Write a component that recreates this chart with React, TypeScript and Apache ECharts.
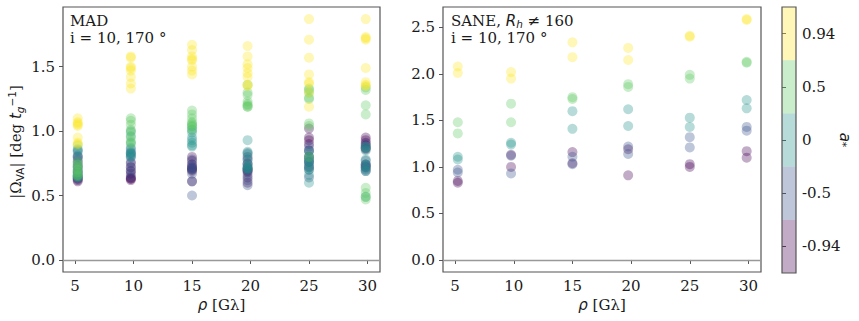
import React, { useEffect, useRef } from "react";
import * as echarts from "echarts";

// baseline lengths (G lambda) of the six columns
const rho = [5.23, 9.77, 15.0, 19.75, 25.0, 29.85];
const rhoTicks = [5, 10, 15, 20, 25, 30];
const madTicks = [0, 0.5, 1.0, 1.5];
const saneTicks = [0, 0.5, 1.0, 1.5, 2.0, 2.5];
const spinLabels = ["-0.94", "-0.5", "0", "0.5", "0.94"];
const spinColors = ["#440154", "#3b528b", "#21918c", "#5ec962", "#fde725"];

// MAD: |Omega_VA| per spin, one list per rho column
const madM094 = [
  [0.8, 0.76, 0.72, 0.68, 0.65, 0.63, 0.62, 0.61],
  [0.75, 0.72, 0.69, 0.67, 0.64, 0.63, 0.63, 0.62],
  [0.8, 0.77, 0.74, 0.72, 0.71, 0.7, 0.69, 0.61],
  [0.8, 0.75, 0.72, 0.7, 0.69, 0.68, 0.64, 0.6],
  [1.02, 0.95, 0.93, 0.9, 0.85, 0.8, 0.76, 0.72],
  [0.95, 0.93, 0.91, 0.89, 0.87, 0.86, 0.74, 0.72],
];
const madM05 = [
  [0.85, 0.81, 0.78, 0.73, 0.69, 0.66, 0.64, 0.63],
  [0.86, 0.83, 0.82, 0.8, 0.76, 0.72, 0.69, 0.65],
  [0.78, 0.74, 0.72, 0.71, 0.7, 0.67, 0.61, 0.5],
  [0.83, 0.78, 0.74, 0.71, 0.7, 0.66, 0.62, 0.58],
  [0.88, 0.85, 0.8, 0.78, 0.76, 0.73, 0.7, 0.64],
  [0.9, 0.87, 0.77, 0.74, 0.73, 0.72, 0.7, 0.69],
];
const mad0 = [
  [0.86, 0.84, 0.8, 0.74, 0.7, 0.67, 0.65, 0.64],
  [1.0, 0.96, 0.91, 0.87, 0.84, 0.83, 0.81, 0.8],
  [1.04, 1.01, 0.99, 0.95, 0.93, 0.91, 0.89, 0.88],
  [0.93, 0.84, 0.82, 0.78, 0.74, 0.72, 0.71, 0.7],
  [0.84, 0.8, 0.77, 0.75, 0.72, 0.7, 0.66, 0.6],
  [0.88, 0.87, 0.85, 0.78, 0.74, 0.71, 0.69, 0.49],
];
const mad05 = [
  [0.89, 0.76, 0.74, 0.72, 0.7, 0.68, 0.66, 0.65],
  [1.1, 1.08, 1.05, 1.01, 0.99, 0.95, 0.92, 0.9],
  [1.16, 1.13, 1.1, 1.07, 1.06, 1.05, 1.03, 1.01],
  [1.36, 1.3, 1.28, 1.23, 1.21, 1.2, 1.19, 1.19],
  [1.33, 1.32, 1.3, 1.26, 1.25, 1.06, 1.04, 0.8],
  [1.34, 1.32, 1.2, 1.13, 0.56, 0.52, 0.49, 0.47],
];
const mad094 = [
  [1.1, 1.07, 1.06, 1.05, 1.04, 0.95, 0.91, 0.9],
  [1.58, 1.57, 1.5, 1.49, 1.47, 1.42, 1.37, 1.33],
  [1.67, 1.63, 1.58, 1.56, 1.55, 1.5, 1.47, 1.44],
  [1.66, 1.58, 1.52, 1.49, 1.45, 1.42, 1.36, 1.35],
  [1.87, 1.71, 1.57, 1.44, 1.38, 1.37, 1.3, 1.19],
  [1.87, 1.73, 1.72, 1.71, 1.49, 1.38, 1.36, 1.35],
];

// SANE (R_h != 160)
const saneM094 = [[0.85, 0.83], [1.13, 1.0], [1.16, 1.04], [1.19, 0.91], [1.03, 1.0], [1.17, 1.1]];
const saneM05 = [[0.97, 0.94], [1.12, 0.93], [1.11, 1.03], [1.22, 1.14], [1.32, 1.21], [1.43, 1.39]];
const sane0 = [[1.11, 1.08], [1.26, 1.24], [1.6, 1.41], [1.62, 1.44], [1.53, 1.43], [1.72, 1.63]];
const sane05 = [[1.48, 1.36], [1.68, 1.48], [1.75, 1.73], [1.89, 1.86], [1.99, 1.95], [2.13, 2.12]];
const sane094 = [[2.08, 2.01], [2.02, 1.95], [2.34, 2.18], [2.28, 2.15], [2.41, 2.4], [2.59, 2.58]];

const madSets = [madM094, madM05, mad0, mad05, mad094];
const saneSets = [saneM094, saneM05, sane0, sane05, sane094];

const ALPHA = 0.33;
const FONT = "DejaVu Serif";
const FS = 15;
const FRAME = "#555";
const TXT = "#1a1a1a";

function toPoints(cols: number[][]) {
  const out: number[][] = [];
  cols.forEach((vals, i) => vals.forEach((v) => out.push([rho[i], v])));
  return out;
}

function hexA(hex: string, a: number) {
  const r = parseInt(hex.slice(1, 3), 16);
  const g = parseInt(hex.slice(3, 5), 16);
  const b = parseInt(hex.slice(5, 7), 16);
  return `rgba(${r},${g},${b},${a})`;
}

export default function App() {
  const ref = useRef<HTMLDivElement>(null);
  useEffect(() => {
    if (!ref.current) return;
    const chart = echarts.init(ref.current, undefined, { renderer: "svg" });

    const xAxisBase = (gridIndex: number) => ({
      type: "value",
      gridIndex,
      min: 3.97,
      max: 31.07,
      name: "{it|ρ} [Gλ]",
      nameLocation: "middle",
      nameGap: 20,
      nameTextStyle: {
        fontFamily: FONT,
        fontSize: FS,
        color: TXT,
        rich: {
          it: { fontFamily: "DejaVu Sans", fontStyle: "italic", fontSize: FS, color: TXT },
        },
      },
      axisLine: { show: false },
      splitLine: { show: false },
      axisTick: { show: true, length: 4, lineStyle: { color: FRAME }, customValues: rhoTicks },
      axisLabel: {
        fontFamily: FONT,
        fontSize: FS,
        color: TXT,
        margin: 6,
        customValues: rhoTicks,
        formatter: (v: number) => String(v),
      },
    });

    const yAxisBase = (gridIndex: number, min: number, max: number, ticks: number[]) => ({
      type: "value",
      gridIndex,
      min,
      max,
      axisLine: { show: false },
      splitLine: { show: false },
      axisTick: { show: true, length: 4, lineStyle: { color: FRAME }, customValues: ticks },
      axisLabel: {
        fontFamily: FONT,
        fontSize: FS,
        color: TXT,
        margin: 8,
        customValues: ticks,
        formatter: (v: number) => v.toFixed(1),
      },
    });

    const series: any[] = [];
    [madSets, saneSets].forEach((sets, p) => {
      sets.forEach((cols, s) => {
        series.push({
          type: "scatter",
          xAxisIndex: p,
          yAxisIndex: p,
          symbolSize: 10,
          data: toPoints(cols),
          itemStyle: { color: spinColors[s], opacity: ALPHA },
          z: 3,
          markLine:
            s === 0
              ? {
                  silent: true,
                  symbol: ["none", "none"],
                  label: { show: false },
                  lineStyle: { color: "#999", width: 1.3, type: "solid" },
                  data: [{ yAxis: 0 }],
                  z: 1,
                }
              : undefined,
        });
      });
    });

    series.push({
      type: "bar",
      xAxisIndex: 2,
      yAxisIndex: 2,
      barWidth: "100%",
      barCategoryGap: "0%",
      data: spinLabels.map((_, i) => ({
        value: 1,
        itemStyle: { color: hexA(spinColors[i], ALPHA) },
      })),
    });

    chart.setOption({
      animation: false,
      backgroundColor: "#fff",
      grid: [
        { left: 63, top: 7, width: 317, height: 265, show: true, borderColor: FRAME, borderWidth: 1.2, backgroundColor: "transparent" },
        { left: 443, top: 7, width: 318, height: 265, show: true, borderColor: FRAME, borderWidth: 1.2, backgroundColor: "transparent" },
        { left: 782, top: 7, width: 14, height: 266, show: true, borderColor: FRAME, borderWidth: 1.2, backgroundColor: "transparent", z: 5 },
      ],
      xAxis: [
        xAxisBase(0),
        xAxisBase(1),
        { type: "value", gridIndex: 2, min: 0, max: 1, show: false },
      ],
      yAxis: [
        yAxisBase(0, -0.0935, 1.9635, madTicks),
        yAxisBase(1, -0.1295, 2.7195, saneTicks),
        {
          type: "category",
          gridIndex: 2,
          position: "right",
          data: spinLabels,
          axisLine: { show: false },
          splitLine: { show: false },
          axisTick: { show: true, length: 4, alignWithLabel: true, lineStyle: { color: FRAME } },
          axisLabel: { fontFamily: FONT, fontSize: FS, color: TXT, margin: 6 },
        },
      ],
      graphic: [
        {
          type: "text",
          left: 70,
          top: 12,
          z: 10,
          style: {
            text: "MAD\ni = 10, 170 °",
            fontFamily: FONT,
            fontSize: FS,
            lineHeight: 17.5,
            fill: TXT,
          },
        },
        {
          type: "text",
          left: 451,
          top: 12,
          z: 10,
          style: {
            text: "SANE, {it|R}{sub|h} ≠ 160\ni = 10, 170 °",
            fontFamily: FONT,
            fontSize: FS,
            lineHeight: 17.5,
            fill: TXT,
            rich: {
              it: { fontFamily: "DejaVu Sans", fontStyle: "italic", fontSize: FS, fill: TXT },
              sub: { fontFamily: "DejaVu Sans", fontStyle: "italic", fontSize: 10.5, fill: TXT, verticalAlign: "bottom", padding: [6, 0, 0, 0] },
            },
          },
        },
        {
          type: "text",
          x: 16,
          y: 142,
          rotation: Math.PI / 2,
          z: 10,
          style: {
            text: "|Ω{sub|VA}| [deg {it|t}{subi|g}{sup|−1}]",
            fontFamily: FONT,
            fontSize: FS,
            fill: TXT,
            align: "center",
            verticalAlign: "middle",
            rich: {
              sub: { fontFamily: "DejaVu Sans", fontSize: 10.5, fill: TXT, verticalAlign: "bottom", padding: [6, 0, 0, 0] },
              subi: { fontFamily: "DejaVu Sans", fontStyle: "italic", fontSize: 10.5, fill: TXT, verticalAlign: "bottom", padding: [6, 0, 0, 0] },
              it: { fontFamily: "DejaVu Sans", fontStyle: "italic", fontSize: FS, fill: TXT },
              sup: { fontFamily: "DejaVu Sans", fontSize: 10.5, fill: TXT, verticalAlign: "top", padding: [0, 0, 8, 0] },
            },
          },
        },
        {
          type: "text",
          x: 845,
          y: 140,
          rotation: -Math.PI / 2,
          z: 10,
          style: {
            text: "{it|a}{sub|*}",
            fontFamily: FONT,
            fontSize: FS,
            fill: TXT,
            align: "center",
            verticalAlign: "middle",
            rich: {
              it: { fontFamily: "DejaVu Sans", fontStyle: "italic", fontSize: FS, fill: TXT },
              sub: { fontFamily: "DejaVu Sans", fontSize: 11, fill: TXT, verticalAlign: "bottom", padding: [6, 0, 0, 0] },
            },
          },
        },
      ],
      series,
    });
    return () => chart.dispose();
  }, []);
  return (
    <div
      ref={ref}
      style={{ position: "fixed", left: 0, top: 0, width: 859, height: 321, background: "#fff" }}
    />
  );
}
